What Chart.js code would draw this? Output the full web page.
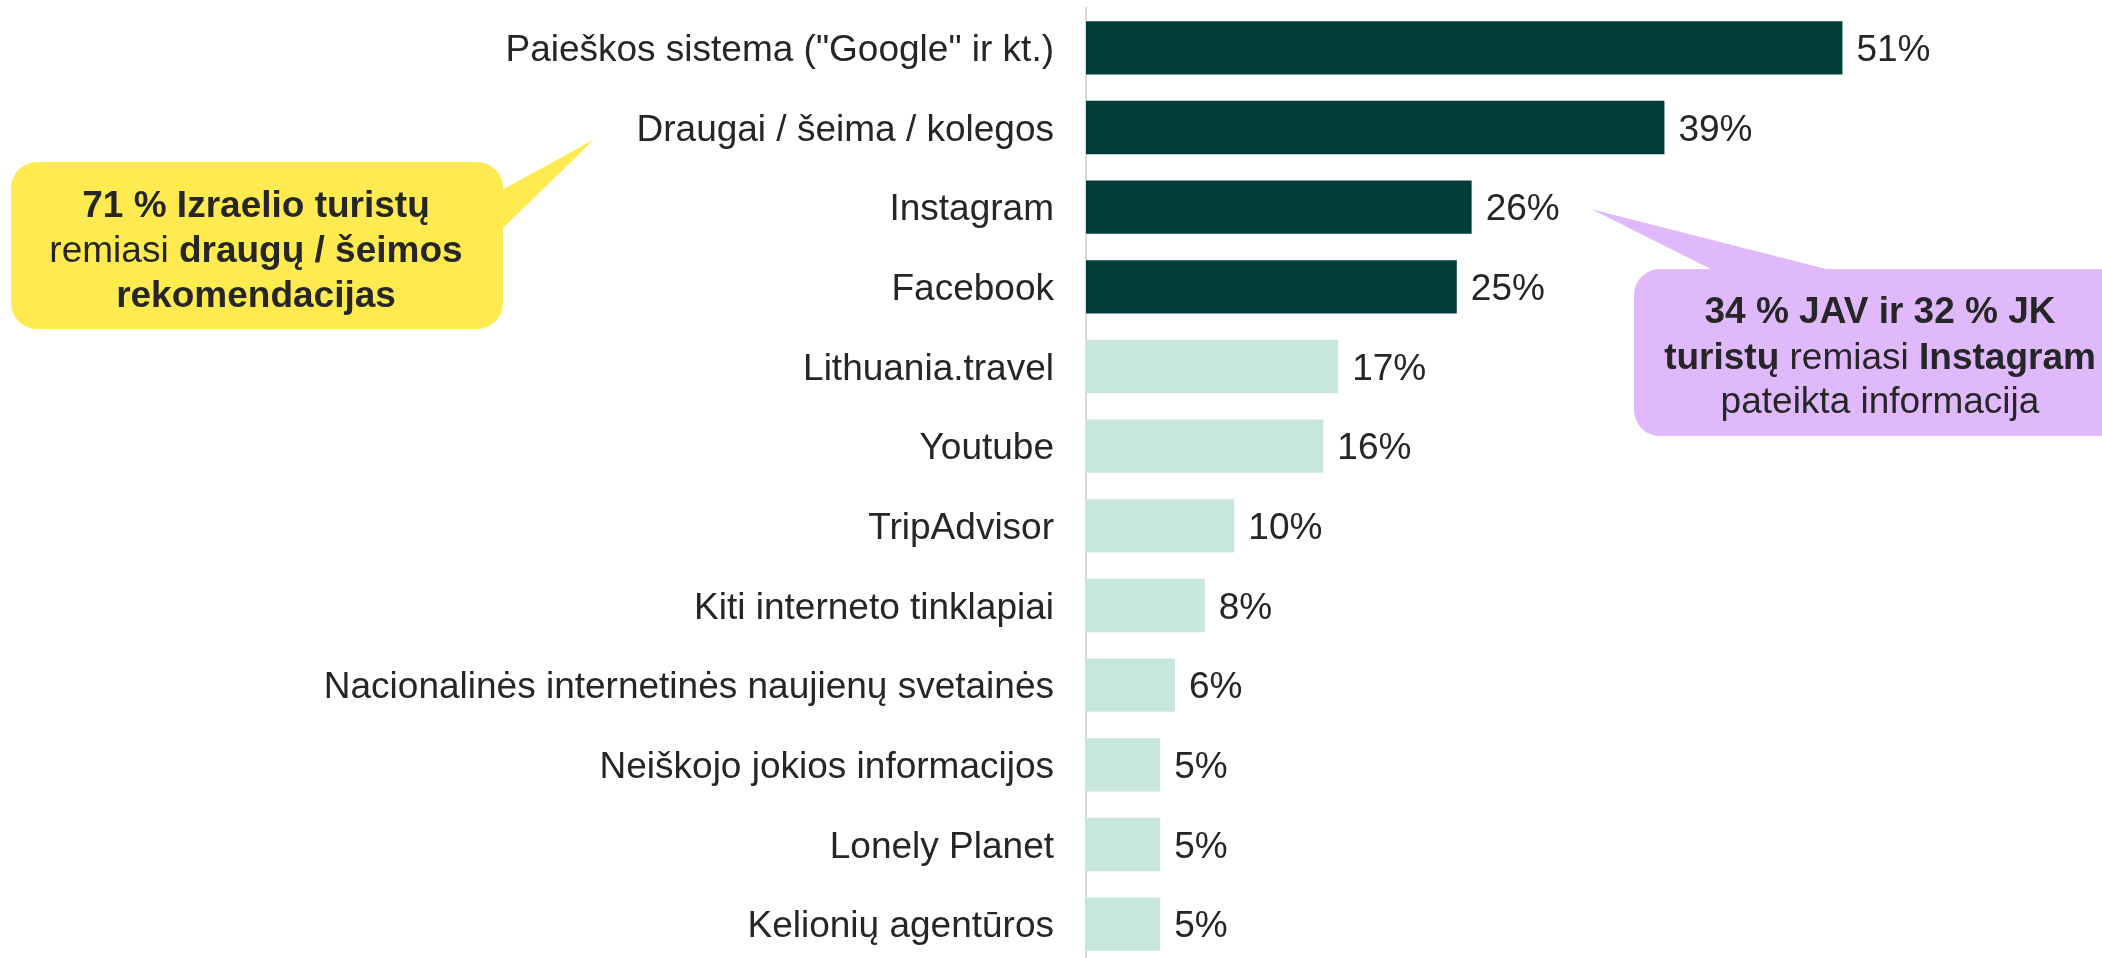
<!DOCTYPE html>
<html>
<head>
<meta charset="utf-8">
<script src="https://cdn.jsdelivr.net/npm/chart.js@4.4.1/dist/chart.umd.min.js"></script>
<style>
  html, body { margin: 0; padding: 0; background: #ffffff; overflow: hidden; }
  #wrap { width: 2102px; height: 966px; }
</style>
</head>
<body>
<div id="wrap"><canvas id="c" width="2102" height="966"></canvas></div>
<script>
// ---- Data ----
const categories = [
  'Paieškos sistema ("Google" ir kt.)',
  'Draugai / šeima / kolegos',
  'Instagram',
  'Facebook',
  'Lithuania.travel',
  'Youtube',
  'TripAdvisor',
  'Kiti interneto tinklapiai',
  'Nacionalinės internetinės naujienų svetainės',
  'Neiškojo jokios informacijos',
  'Lonely Planet',
  'Kelionių agentūros'
];
const values = [51, 39, 26, 25, 17, 16, 10, 8, 6, 5, 5, 5];
const highlightCount = 4;

const yellowNote = [
  [{t: '71 % Izraelio turistų', b: true}],
  [{t: 'remiasi ', b: false}, {t: 'draugų / šeimos', b: true}],
  [{t: 'rekomendacijas', b: true}]
];
const purpleNote = [
  [{t: '34 % JAV ir 32 % JK', b: true}],
  [{t: 'turistų', b: true}, {t: ' remiasi ', b: false}, {t: 'Instagram', b: true}],
  [{t: 'pateikta informacija', b: false}]
];

// ---- Styles ----
const FONT = '"Liberation Sans", Arial, sans-serif';
const TEXT = '#262626';
const DARK = '#003D3B';
const LIGHT = '#C7E7DC';
const YELLOW = '#FFEA50';
const PURPLE = '#E0B9FC';

function roundRect(ctx, x, y, w, h, r) {
  ctx.beginPath();
  ctx.moveTo(x + r, y);
  ctx.lineTo(x + w - r, y);
  ctx.arcTo(x + w, y, x + w, y + r, r);
  ctx.lineTo(x + w, y + h - r);
  ctx.arcTo(x + w, y + h, x + w - r, y + h, r);
  ctx.lineTo(x + r, y + h);
  ctx.arcTo(x, y + h, x, y + h - r, r);
  ctx.lineTo(x, y + r);
  ctx.arcTo(x, y, x + r, y, r);
  ctx.closePath();
}

function drawRichLines(ctx, lines, cx, baselines, size) {
  lines.forEach((segs, i) => {
    let total = 0;
    segs.forEach(s => {
      ctx.font = (s.b ? 'bold ' : '') + size + 'px ' + FONT;
      s.w = ctx.measureText(s.t).width;
      total += s.w;
    });
    let x = cx - total / 2;
    segs.forEach(s => {
      ctx.font = (s.b ? 'bold ' : '') + size + 'px ' + FONT;
      ctx.fillStyle = TEXT;
      ctx.textAlign = 'left';
      ctx.textBaseline = 'alphabetic';
      ctx.fillText(s.t, x, baselines[i]);
      x += s.w;
    });
  });
}

const valueLabels = {
  id: 'valueLabels',
  afterDatasetsDraw(chart) {
    const ctx = chart.ctx;
    const meta = chart.getDatasetMeta(0);
    ctx.save();
    ctx.font = '37px ' + FONT;
    ctx.fillStyle = TEXT;
    ctx.textAlign = 'left';
    ctx.textBaseline = 'middle';
    meta.data.forEach((bar, i) => {
      ctx.fillText(values[i] + '%', bar.x + 14, bar.y + 3);
    });
    ctx.restore();
  }
};

const callouts = {
  id: 'callouts',
  afterDraw(chart) {
    const ctx = chart.ctx;
    const xs = chart.scales.x, ys = chart.scales.y;
    ctx.save();

    // Yellow callout, pointing at "Draugai / šeima / kolegos"
    const yTipX = 594, yTipY = ys.getPixelForValue(1) + 12;
    ctx.fillStyle = YELLOW;
    roundRect(ctx, 11, 162, 492, 167, 26);
    ctx.fill();
    ctx.beginPath();
    ctx.moveTo(500, 191);
    ctx.lineTo(yTipX, yTipY);
    ctx.lineTo(500, 231);
    ctx.closePath();
    ctx.fill();
    drawRichLines(ctx, yellowNote, 256, [217, 262, 307], 37);

    // Purple callout, pointing at Instagram value
    const pTipX = xs.getPixelForValue(values[2]) + 120, pTipY = ys.getPixelForValue(2) + 2;
    ctx.fillStyle = PURPLE;
    roundRect(ctx, 1634, 269, 520, 167, 26);
    ctx.fill();
    ctx.beginPath();
    ctx.moveTo(1717, 272);
    ctx.lineTo(pTipX, pTipY);
    ctx.lineTo(1838, 272);
    ctx.closePath();
    ctx.fill();
    drawRichLines(ctx, purpleNote, 1880, [323, 369, 413], 37);

    ctx.restore();
  }
};

new Chart(document.getElementById('c'), {
  type: 'bar',
  data: {
    labels: categories,
    datasets: [{
      data: values,
      backgroundColor: values.map((v, i) => i < highlightCount ? DARK : LIGHT),
      borderWidth: 0,
      barPercentage: 0.67,
      categoryPercentage: 1.0
    }]
  },
  options: {
    indexAxis: 'y',
    responsive: false,
    animation: false,
    devicePixelRatio: 1,
    layout: { padding: { top: 8, bottom: 2, left: 0, right: 0 } },
    plugins: {
      legend: { display: false },
      tooltip: { enabled: false },
      title: { display: false }
    },
    scales: {
      x: {
        display: false,
        min: 0,
        max: 68.5,
        afterFit(scale) { scale.height = 0; scale.paddingLeft = 0; scale.paddingRight = 0; }
      },
      y: {
        afterFit(scale) {
          scale.width = 1086;
          scale.paddingTop = 0;
          scale.paddingBottom = 0;
        },
        grid: { display: false, drawTicks: false },
        border: { display: true, color: '#D9D9D9', width: 2 },
        ticks: {
          color: TEXT,
          padding: 32,
          labelOffset: 3,
          font: { family: FONT, size: 37 },
          autoSkip: false
        }
      }
    }
  },
  plugins: [valueLabels, callouts]
});
</script>
</body>
</html>
